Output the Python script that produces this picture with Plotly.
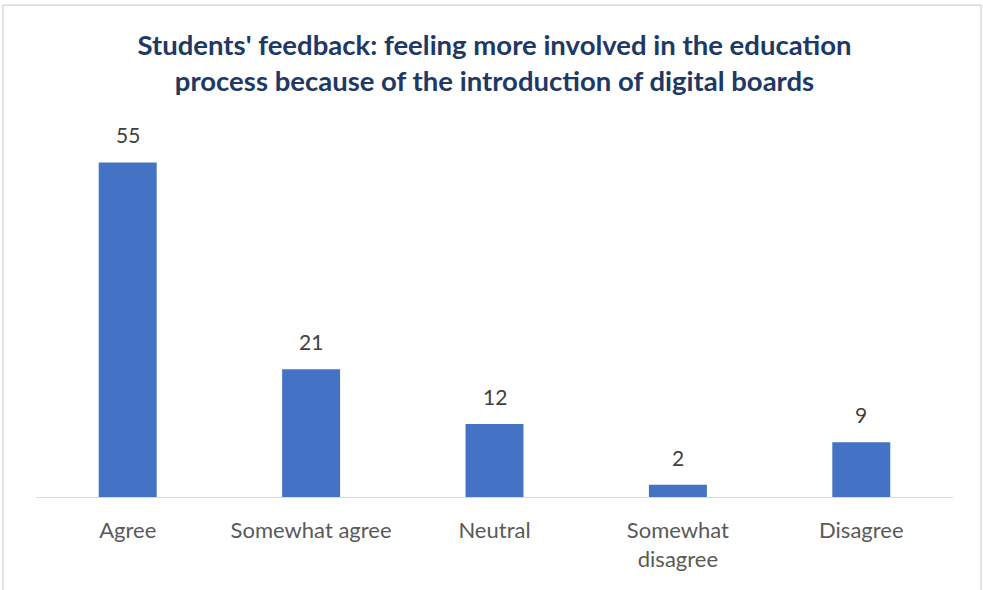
import plotly.graph_objects as go

categories = ["Agree", "Somewhat agree", "Neutral", "Somewhat<br>disagree", "Disagree"]
responses = [55, 21, 12, 2, 9]

title_text = ("Students' feedback: feeling more involved in the education<br>"
              "process because of the introduction of digital boards")

BAR_COLOR = "#4472C4"
TEXT_COLOR = "#595959"
TITLE_COLOR = "#203864"
FONT = "Lato, 'Open Sans', sans-serif"

fig = go.Figure()
fig.add_trace(go.Bar(
    x=categories,
    y=responses,
    marker=dict(color=BAR_COLOR, line=dict(width=0)),
    width=0.316,
    hoverinfo="x+y",
))

# value labels above each bar
for cat, val in zip(categories, responses):
    fig.add_annotation(
        x=cat, y=val, text=str(val), showarrow=False,
        yanchor="bottom", yshift=13,
        font=dict(family=FONT, size=21, color="#404040"),
    )

fig.update_layout(
    width=983, height=590,
    margin=dict(l=36, r=30, t=131.5, b=93),
    paper_bgcolor="white", plot_bgcolor="white",
    showlegend=False,
    title=dict(
        text=title_text,
        x=0.5, xanchor="center", xref="paper",
        y=1 - 55 / 590, yanchor="middle", yref="container",
        font=dict(family=FONT, size=27.5, color=TITLE_COLOR, weight="bold"),
    ),
    xaxis=dict(
        showline=True, linecolor="#d9d9d9", linewidth=1,
        showgrid=False, ticks="", ticklabelstandoff=14,
        tickfont=dict(family=FONT, size=22, color=TEXT_COLOR),
        fixedrange=True,
    ),
    yaxis=dict(
        range=[0, 60], visible=False, showgrid=False, fixedrange=True,
    ),
    shapes=[dict(
        type="rect", xref="paper", yref="paper",
        x0=-33 / 917, x1=(981 - 36) / 917,
        y0=-110 / 365.5, y1=1 + 127 / 365.5,
        line=dict(color="#d9d9d9", width=1.5), fillcolor="rgba(0,0,0,0)",
    )],
)

fig.write_html("out.html")
